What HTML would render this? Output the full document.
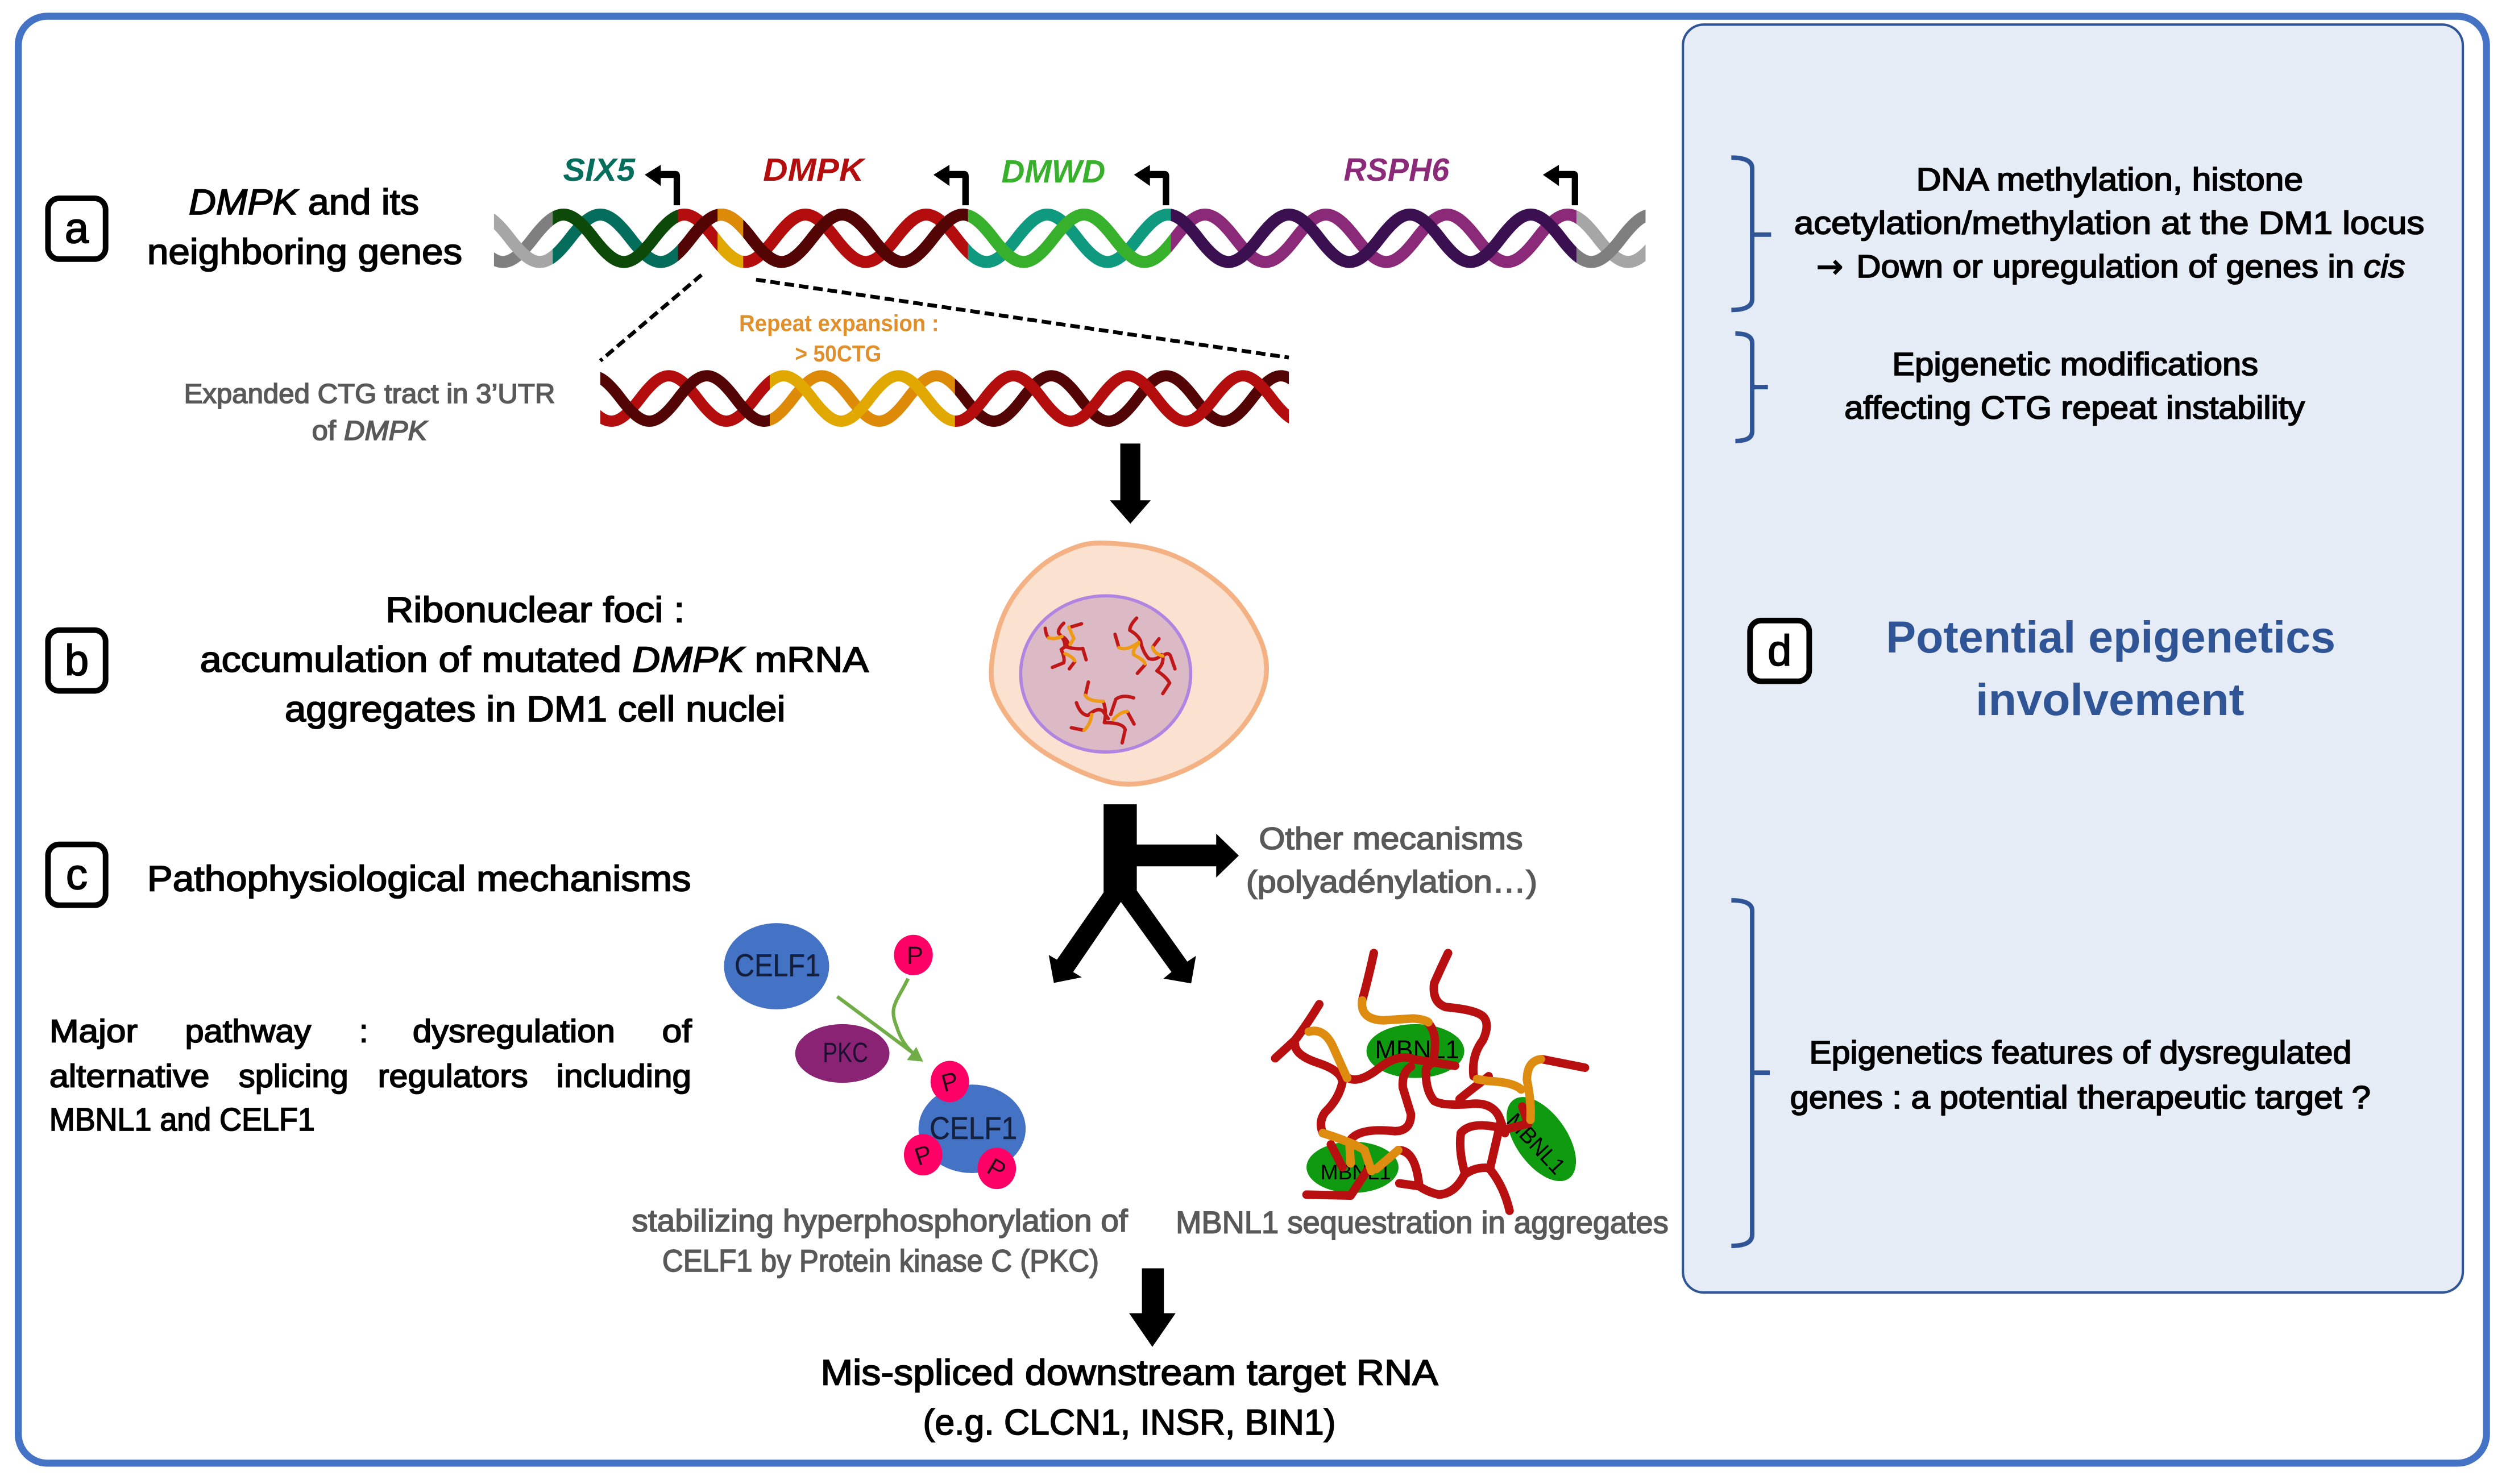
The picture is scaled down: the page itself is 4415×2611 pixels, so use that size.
<!DOCTYPE html>
<html><head><meta charset="utf-8"><title>DM1 epigenetics diagram</title>
<style>
html,body{margin:0;padding:0;background:#fff}
svg{display:block}
text{font-family:"Liberation Sans",sans-serif}
.k{fill:#000;stroke:#000;stroke-width:.65}
.g{fill:#595959;stroke:#595959;stroke-width:.6}
.sn{fill:none;stroke-linecap:round;stroke-linejoin:round;vector-effect:non-scaling-stroke}
</style></head><body>
<svg xmlns="http://www.w3.org/2000/svg" width="4415" height="2611" viewBox="0 0 1565 925.5">
<defs>
<path id="p" fill="none" stroke-width="7.5" d="M257.05,148.6 c15.08,-19.7 22.62,-19.7 37.7,0 s22.62,19.7 37.7,0 s22.62,-19.7 37.7,0 s22.62,19.7 37.7,0 s22.62,-19.7 37.7,0 s22.62,19.7 37.7,0 s22.62,-19.7 37.7,0 s22.62,19.7 37.7,0 s22.62,-19.7 37.7,0 s22.62,19.7 37.7,0 s22.62,-19.7 37.7,0 s22.62,19.7 37.7,0 s22.62,-19.7 37.7,0 s22.62,19.7 37.7,0 s22.62,-19.7 37.7,0 s22.62,19.7 37.7,0 s22.62,-19.7 37.7,0 s22.62,19.7 37.7,0 s22.62,-19.7 37.7,0 s22.62,19.7 37.7,0 s22.62,-19.7 37.7,0"/>
<path id="r" fill="none" stroke-width="7" d="M327.5,248.5 c14.32,-18.9 21.48,-18.9 35.8,0 s21.48,18.9 35.8,0 s21.48,-18.9 35.8,0 s21.48,18.9 35.8,0 s21.48,-18.9 35.8,0 s21.48,18.9 35.8,0 s21.48,-18.9 35.8,0 s21.48,18.9 35.8,0 s21.48,-18.9 35.8,0 s21.48,18.9 35.8,0 s21.48,-18.9 35.8,0 s21.48,18.9 35.8,0 s21.48,-18.9 35.8,0 s21.48,18.9 35.8,0"/>
<path id="pr" d="M420,128 V111 H412 V116 L402,109 L412,102.8 V106.6 H421 Q424,106.6 424,110 V128 Z"/>
<clipPath id="c0"><rect x="308" y="120" width="36.6" height="60"/></clipPath>
<clipPath id="c1"><rect x="344.6" y="120" width="78.1" height="60"/></clipPath>
<clipPath id="c2"><rect x="422.7" y="120" width="180.9" height="60"/></clipPath>
<clipPath id="c2b"><rect x="447.4" y="120" width="16" height="60"/></clipPath>
<clipPath id="c3"><rect x="603.6" y="120" width="126.4" height="60"/></clipPath>
<clipPath id="c4"><rect x="730" y="120" width="253" height="60"/></clipPath>
<clipPath id="c5"><rect x="983" y="120" width="43" height="60"/></clipPath>
<clipPath id="d1"><rect x="374.3" y="220" width="105.7" height="60"/></clipPath>
<clipPath id="d2"><rect x="480" y="220" width="115.4" height="60"/></clipPath>
<clipPath id="d3"><rect x="595.4" y="220" width="208.2" height="60"/></clipPath>
</defs>

<rect x="11.4" y="10.1" width="1538.9" height="902.4" rx="18" fill="#fff" stroke="#4472c4" stroke-width="4.4"/>
<rect x="1049.3" y="15.3" width="486.3" height="790.8" rx="13" fill="#e6ecf6" stroke="#2f5597" stroke-width="1.5"/>

<!-- main helix -->
<g clip-path="url(#c0)"><use href="#p" stroke="#7f7f7f"/><use href="#p" stroke="#a6a6a6" transform="translate(23,0)"/></g>
<g clip-path="url(#c1)"><use href="#p" transform="translate(23,0)" stroke="#056d5b"/><use href="#p" stroke="#0d4a0a"/></g>
<g clip-path="url(#c2)"><use href="#p" stroke="#b30d0d"/><use href="#p" stroke="#530404" transform="translate(23,0)"/></g>
<g clip-path="url(#c2b)"><use href="#p" stroke="#e0a800"/><use href="#p" stroke="#dd8a08" transform="translate(23,0)"/></g>
<g clip-path="url(#c3)"><use href="#p" stroke="#0f9a80"/><use href="#p" stroke="#37b02c" transform="translate(23,0)"/></g>
<g clip-path="url(#c4)"><use href="#p" stroke="#8a2a78" transform="translate(23,0)"/><use href="#p" stroke="#3a1050"/></g>
<g clip-path="url(#c5)"><use href="#p" stroke="#a6a6a6" transform="translate(23,0)"/><use href="#p" stroke="#7f7f7f"/></g>

<!-- promoter arrows -->
<g fill="#000">
<use href="#pr"/>
<use href="#pr" transform="translate(180,0)"/>
<use href="#pr" transform="translate(305,0)"/>
<use href="#pr" transform="translate(560,0)"/>
</g>

<!-- dashed zoom lines -->
<line x1="437.4" y1="171.4" x2="374.3" y2="225" stroke="#000" stroke-width="2.4" stroke-dasharray="6,3"/>
<line x1="471.4" y1="174.4" x2="803.6" y2="223" stroke="#000" stroke-width="2.4" stroke-dasharray="6,3"/>

<!-- expansion helix -->
<g clip-path="url(#d1)"><use href="#r" stroke="#b30d0d"/><use href="#r" stroke="#530404" transform="translate(23.7,0)"/></g>
<g clip-path="url(#d2)"><use href="#r" stroke="#dd8a08" transform="translate(23.7,0)"/><use href="#r" stroke="#e0a800"/></g>
<g clip-path="url(#d3)"><use href="#r" stroke="#530404" transform="translate(23.7,0)"/><use href="#r" stroke="#b30d0d"/></g>

<!-- items positioned from overview -->
<g transform="scale(.9974)">
<g font-weight="bold" font-style="italic" font-size="20">
<text x="352" y="113" textLength="45" lengthAdjust="spacingAndGlyphs" fill="#056d5b">SIX5</text>
<text x="477" y="113" textLength="63" lengthAdjust="spacingAndGlyphs" fill="#b30d0d">DMPK</text>
<text x="626" y="114" textLength="65" lengthAdjust="spacingAndGlyphs" fill="#37b02c">DMWD</text>
<text x="840" y="113" textLength="66" lengthAdjust="spacingAndGlyphs" fill="#8a2a78">RSPH6</text>
</g>
<text x="462" y="207" font-size="14.5" font-weight="bold" fill="#e08f2a" textLength="125" lengthAdjust="spacingAndGlyphs">Repeat expansion :</text>
<text x="497" y="226" font-size="14.5" font-weight="bold" fill="#e08f2a" textLength="54" lengthAdjust="spacingAndGlyphs">&gt; 50CTG</text>
<text class="g" x="115" y="252" font-size="17" textLength="232" lengthAdjust="spacingAndGlyphs">Expanded CTG tract in 3’UTR</text>
<text class="g" x="195" y="275" font-size="17" textLength="72" lengthAdjust="spacingAndGlyphs">of <tspan font-style="italic">DMPK</tspan></text>

<g fill="#fff" stroke="#000" stroke-width="3.5">
<rect x="30" y="124" width="36" height="38" rx="7"/>
<rect x="30" y="394" width="36" height="38" rx="7"/>
<rect x="30" y="528" width="36" height="38" rx="7"/>
<rect x="1094" y="388" width="37" height="38" rx="7"/>
</g>
<g font-size="27" text-anchor="middle" class="k">
<text x="48" y="152">a</text><text x="48" y="422">b</text><text x="48" y="556">c</text><text x="1112.5" y="416">d</text>
</g>

<g font-size="22.5" class="k">
<text x="118" y="134" textLength="144" lengthAdjust="spacingAndGlyphs"><tspan font-style="italic">DMPK</tspan> and its</text>
<text x="92" y="165" textLength="197" lengthAdjust="spacingAndGlyphs">neighboring genes</text>
<text x="241" y="389" textLength="187" lengthAdjust="spacingAndGlyphs">Ribonuclear foci :</text>
<text x="125" y="420" textLength="418" lengthAdjust="spacingAndGlyphs">accumulation of mutated <tspan font-style="italic">DMPK</tspan> mRNA</text>
<text x="178" y="451" textLength="313" lengthAdjust="spacingAndGlyphs">aggregates in DM1 cell nuclei</text>
<text x="92" y="557" textLength="340" lengthAdjust="spacingAndGlyphs">Pathophysiological mechanisms</text>
<text x="513" y="866" textLength="386" lengthAdjust="spacingAndGlyphs">Mis-spliced downstream target RNA</text>
<text x="577" y="897" textLength="258" lengthAdjust="spacingAndGlyphs">(e.g. CLCN1, INSR, BIN1)</text>
</g>

<g font-size="20" class="k">
<text x="1131" y="665" textLength="339" lengthAdjust="spacingAndGlyphs">Epigenetics features of dysregulated</text>
<text x="1119" y="693" textLength="363" lengthAdjust="spacingAndGlyphs">genes : a potential therapeutic target ?</text>
</g>

<text x="1179" y="408" font-size="28" font-weight="bold" fill="#2f5597" textLength="281" lengthAdjust="spacingAndGlyphs">Potential epigenetics</text>
<text x="1235" y="447" font-size="28" font-weight="bold" fill="#2f5597" textLength="168" lengthAdjust="spacingAndGlyphs">involvement</text>

<g font-size="19.5" class="g">
<text x="395" y="770" textLength="310" lengthAdjust="spacingAndGlyphs">stabilizing hyperphosphorylation of</text>
<text x="414" y="795" textLength="273" lengthAdjust="spacingAndGlyphs">CELF1 by Protein kinase C (PKC)</text>
<text x="735" y="771" textLength="308" lengthAdjust="spacingAndGlyphs">MBNL1 sequestration in aggregates</text>
<text x="787" y="531" textLength="165" lengthAdjust="spacingAndGlyphs">Other mecanisms</text>
<text x="779" y="558" textLength="182" lengthAdjust="spacingAndGlyphs">(polyadénylation…)</text>
</g>
</g>

<!-- text positioned from crops -->
<g font-size="20" class="k">
<text x="30.8" y="650" textLength="55" lengthAdjust="spacingAndGlyphs">Major</text>
<text x="115.4" y="650" textLength="78.6" lengthAdjust="spacingAndGlyphs">pathway</text>
<text x="224" y="650">:</text>
<text x="257.3" y="650" textLength="126.2" lengthAdjust="spacingAndGlyphs">dysregulation</text>
<text x="412.8" y="650" textLength="18.5" lengthAdjust="spacingAndGlyphs">of</text>
<text x="30.8" y="678" textLength="99.8" lengthAdjust="spacingAndGlyphs">alternative</text>
<text x="148.8" y="678" textLength="68.4" lengthAdjust="spacingAndGlyphs">splicing</text>
<text x="235.6" y="678" textLength="93.6" lengthAdjust="spacingAndGlyphs">regulators</text>
<text x="346.9" y="678" textLength="84.1" lengthAdjust="spacingAndGlyphs">including</text>
<text x="30.8" y="705" textLength="165.5" lengthAdjust="spacingAndGlyphs">MBNL1 and CELF1</text>
<text x="1194.8" y="118.7" textLength="241.2" lengthAdjust="spacingAndGlyphs">DNA methylation, histone</text>
<text x="1118.7" y="145.8" textLength="392.9" lengthAdjust="spacingAndGlyphs">acetylation/methylation at the DM1 locus</text>
<text x="1132.5" y="173" font-family="'DejaVu Sans',sans-serif" style="font-family:'DejaVu Sans',sans-serif">→</text>
<text x="1157.5" y="173" textLength="342.1" lengthAdjust="spacingAndGlyphs">Down or upregulation of genes in <tspan font-style="italic">cis</tspan></text>
<text x="1179.8" y="234" textLength="228.2" lengthAdjust="spacingAndGlyphs">Epigenetic modifications</text>
<text x="1150" y="261" textLength="287" lengthAdjust="spacingAndGlyphs">affecting CTG repeat instability</text>
</g>

<g fill="none" stroke="#2f5597" stroke-width="2.8">
<path d="M1079.5,98.3 Q1092.5,98.3 1092.5,105 V186.5 Q1092.5,193.3 1079.5,193.3 M1092.5,146.3 H1104.3"/>
<path d="M1082,208 Q1092.5,208 1092.5,214 V269 Q1092.5,275 1082,275 M1092.5,241.4 H1102.3"/>
<path d="M1079.5,561.5 Q1092.5,561.5 1092.5,568 V770 Q1092.5,777 1079.5,777 M1092.5,669 H1103.5"/>
</g>

<!-- black arrows -->
<g fill="#000">
<polygon points="698.5,276.6 711,276.6 711,312 717.5,312 704.8,326.6 692,312 698.5,312"/>
<polygon points="688.1,501.6 708.8,501.6 708.8,526.7 758.3,526.7 758.3,519.9 772.4,533.6 758.3,547.3 758.3,540.3 708.8,540.3 708.8,555.4 740.3,599.7 745.7,596.1 742.7,613.3 725.4,610.3 730.4,606.2 698.9,562.5 669.1,606.2 674.5,609.5 657.1,613 653.9,595.6 659,598.5 688.1,556.6"/>
<polygon points="712,791 725.7,791 725.7,819 733,819 718.5,840 704,819 712,819"/>
</g>

<!-- cell -->
<path fill="#fbe2d0" stroke="#f4b183" stroke-width="3" d="M705.2,339.9 Q722.6,341.8 736.85,348.75 Q751.1,355.7 763.5,366.85 Q776,378 784.75,396.5 Q793.5,415 786.75,432.5 Q780,450 764.75,463.65 Q749.5,477.3 727.75,484.65 Q706,492 689.8,487.15 Q673.6,482.3 656.95,472.8 Q640.3,463.3 630,449.4 Q619.7,435.5 618.35,424.75 Q617,414 621.5,396.25 Q626,378.5 637.1,365.2 Q648.2,351.9 660.1,345.9 Q672,339.9 679.9,338.95 Q687.8,338 705.2,339.9 Z"/>
<ellipse cx="689.4" cy="420.3" rx="53" ry="48.7" fill="#dbb9c5" stroke="#b084e0" stroke-width="2"/>
<g transform="translate(584.9,319) scale(.1583,.1266)">
<g stroke="#c01818">
<path class="sn" stroke-width="6" d="M422,575 Q425,610 435,622 M488,615 Q510,630 512,655 L485,680 Q500,720 495,745 L450,768 M495,550 Q470,580 475,600 Q500,630 500,665 Q540,680 570,675 L583,730 M565,553 L525,568 M538,740 L517,775"/>
<path class="sn" stroke-width="6" d="M782,525 Q755,560 755,585 Q790,610 798,640 Q805,690 830,725 Q860,735 880,705 M697,605 L712,670 M815,755 L785,797 M870,627 L845,668 M885,712 Q905,690 915,710 L933,775 M885,715 Q890,750 862,785 Q900,815 912,845 L885,897"/>
<path class="sn" stroke-width="6" d="M592,840 L580,905 M650,935 Q665,980 655,1040 Q730,1040 737,1075 L725,1140 M545,942 Q560,1000 590,1005 Q630,960 650,985 L670,1020 M575,1078 L525,1065 M770,918 Q725,900 700,925 L680,1000 M745,985 L772,1047"/>
</g>
<g stroke="#ee9a14">
<path class="sn" stroke-width="6" d="M435,622 Q460,632 488,615 M515,570 Q525,600 535,625 L520,655 M500,700 Q530,715 538,735"/>
<path class="sn" stroke-width="6" d="M712,670 Q740,690 790,645 M790,650 Q765,680 770,705 Q815,735 815,750 M845,668 Q850,700 885,712"/>
<path class="sn" stroke-width="6" d="M580,905 Q590,935 650,935 M605,1000 Q600,1050 575,1078 M690,1025 Q720,985 745,985"/>
</g>
</g>

<!-- CELF1 / PKC -->
<ellipse cx="484.2" cy="602.6" rx="32.8" ry="26.9" fill="#4472c4"/>
<ellipse cx="525.2" cy="657" rx="29.4" ry="18.3" fill="#8b2375"/>
<ellipse cx="606.1" cy="704" rx="33.4" ry="27.6" fill="#4472c4"/>
<ellipse cx="569.5" cy="595.6" rx="12.1" ry="12.6" fill="#ff0066"/>
<ellipse cx="592.2" cy="674.5" rx="12" ry="12.9" fill="#ff0066"/>
<ellipse cx="575.6" cy="720.2" rx="12" ry="12.9" fill="#ff0066"/>
<ellipse cx="621.5" cy="728.7" rx="12" ry="12.9" fill="#ff0066"/>
<g fill="none" stroke="#70ad47" stroke-width="2.2">
<path d="M522,621.5 L571,658"/>
<path d="M566.2,610.3 C559,625 554,628 559,640 Q562,650 568.4,656"/>
</g>
<polygon points="575.6,662.1 565.5,661.1 571.3,652.9" fill="#70ad47"/>
<g fill="#14203c" stroke="#14203c" stroke-width=".2">
<text x="458" y="608.8" font-size="19.7" textLength="53.5" lengthAdjust="spacingAndGlyphs">CELF1</text>
<text x="579.6" y="710.4" font-size="19.7" textLength="54.6" lengthAdjust="spacingAndGlyphs">CELF1</text>
</g>
<text x="513" y="662.3" font-size="17.3" fill="#1a1030" textLength="28.3" lengthAdjust="spacingAndGlyphs">PKC</text>
<g font-size="15.5" fill="#2a0a1a" text-anchor="middle">
<text x="570.5" y="601">P</text>
<text transform="translate(592.2,674.5) rotate(-15)" y="5.5">P</text>
<text transform="translate(575.6,720.2) rotate(-18)" y="5.5">P</text>
<text transform="translate(621.5,728.7) rotate(30)" y="5.5">P</text>
</g>

<!-- MBNL1 aggregates -->
<ellipse cx="882.5" cy="655.5" rx="30.5" ry="16.8" fill="#109a10"/>
<ellipse cx="843.3" cy="728" rx="28.7" ry="16" fill="#109a10"/>
<ellipse cx="961" cy="710.4" rx="30" ry="16" fill="#109a10" transform="rotate(55 961 710.4)"/>
<text x="857.3" y="660" font-size="16" fill="#000" textLength="52.7" lengthAdjust="spacingAndGlyphs">MBNL1</text>
<text x="823.3" y="735.6" font-size="13" fill="#000" textLength="44" lengthAdjust="spacingAndGlyphs">MBNL1</text>
<text transform="translate(957.9,713.1) rotate(47)" x="-23" y="5" font-size="14" fill="#000" textLength="46" lengthAdjust="spacingAndGlyphs">MBNL1</text>
<g transform="translate(779.9,581.4) scale(.14468,.11816)">
<path class="sn" stroke="#b81010" stroke-width="15" d="M530,110 Q505,250 480,360 M765,480 Q810,540 785,680 L755,720 Q750,830 790,890 Q830,920 960,905 Q1050,900 1075,990 L1095,1060 M850,110 Q815,200 790,270 Q780,370 840,395 Q980,410 1005,450 Q1030,490 1000,570 Q950,650 960,760 M1025,760 Q950,830 900,880 M1255,670 L1440,715 M1170,920 L1195,1010 L1100,1040 Q950,990 905,1060 Q895,1150 920,1260 M1075,1010 L1030,1250 Q1090,1340 1115,1470 M1030,1245 Q970,1235 920,1280 Q880,1380 810,1385 Q760,1370 725,1340 L640,1325 M725,1335 Q710,1150 635,1150 M295,380 Q240,490 190,570 L105,665 M190,590 Q190,650 290,690 Q390,730 395,790 Q380,880 320,950 Q290,1000 310,1060 M420,770 Q470,800 560,710 Q640,640 700,670 L880,705 M690,710 Q650,740 655,820 L690,960 Q690,1050 620,1050 Q470,1030 430,1095 M345,1120 L395,1240 M500,1260 L430,1390 L240,1385"/>
<path class="sn" stroke="#dd8c10" stroke-width="15" d="M480,360 Q470,460 570,465 L700,455 Q750,460 765,475 M975,775 L1020,785 Q1130,790 1165,830 M1250,670 Q1190,680 1190,780 Q1210,900 1205,990 M635,1150 L540,1250 M250,525 Q320,500 360,620 L415,770 M310,1060 Q440,1110 490,1150 L520,1260 M425,1110 L430,1220"/>
</g>
</svg>
</body></html>
